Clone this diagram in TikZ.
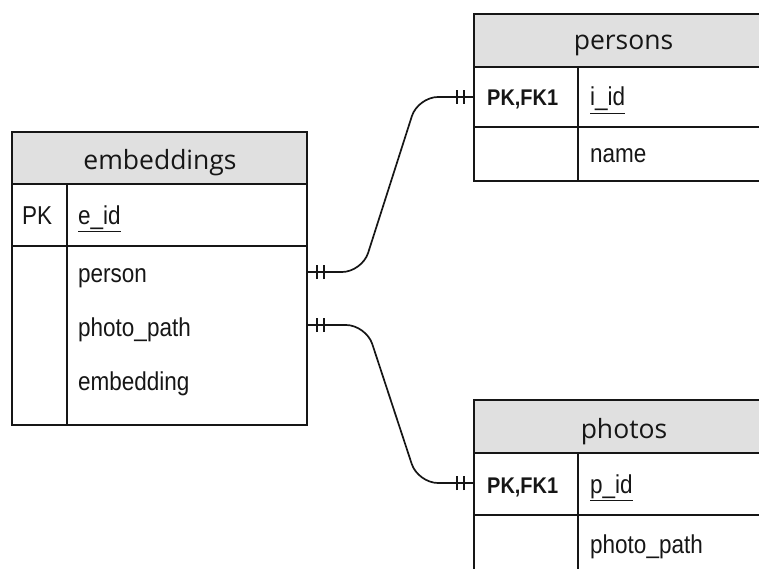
\documentclass[tikz,border=0pt]{standalone}
\usepackage{fontspec}
\usepackage{graphicx}
\setmainfont{Liberation Sans}
\newfontfamily\headfont{Open Sans}
\definecolor{ink}{HTML}{161616}
\definecolor{headfill}{HTML}{E0E0E0}
% field names are set a little taller than the plain font
\newcommand\tallbox[1]{\scalebox{1}[1.15]{#1}}
\newcommand\keybox[1]{\scalebox{0.95}[1.08]{\bfseries #1}}

\begin{document}
\begin{tikzpicture}[x=1pt,y=-1pt,
  frame/.style={draw=ink,line width=1.8pt},
  headcell/.style={fill=headfill},
  title/.style={anchor=base,inner sep=0pt,text=ink,font=\headfont\fontsize{26.5}{30}\selectfont},
  field/.style={anchor=base west,inner sep=0pt,text=ink,font=\fontsize{22.5}{26}\selectfont},
  keyfield/.style={anchor=base west,inner sep=0pt,text=ink,font=\fontsize{21}{24}\selectfont},
  link/.style={draw=ink,line width=1.7pt,rounded corners=20pt},
  bar/.style={draw=ink,line width=1.6pt}]
\useasboundingbox (0,0) rectangle (759,569);
\clip (0,0) rectangle (759,569);

% ---------- embeddings ----------
\fill[headcell] (12,132) rectangle (307,184);
\draw[frame] (12,132) rectangle (307,425);
\draw[frame] (12,184) -- (307,184);
\draw[frame] (12,246) -- (307,246);
\draw[frame] (67,184) -- (67,425);
\node[title] (embT) at (160,170) {embeddings};
\node[field] (embPK) at (22,224) {\tallbox{PK}};
\node[field] (embId) at (78,224) {\tallbox{\underline{e\_id}}};
\node[field] (embPerson) at (78,282) {\tallbox{person}};
\node[field] (embPath) at (78,336) {\tallbox{photo\_path}};
\node[field] (embVec) at (78,390) {\tallbox{embedding}};
\coordinate (embR1) at (307,272);
\coordinate (embR2) at (307,325);

% ---------- persons ----------
\fill[headcell] (474,14) rectangle (775,67);
\draw[frame] (775,14) -- (474,14) -- (474,181) -- (775,181);
\draw[frame] (474,67) -- (775,67);
\draw[frame] (474,127) -- (775,127);
\draw[frame] (578,67) -- (578,181);
\node[title] (perT) at (623.5,50) {persons};
\node[keyfield] (perPK) at (487,106) {\keybox{PK,FK1}};
\node[field] (perId) at (590,106) {\tallbox{\underline{i\_id}}};
\node[field] (perName) at (590,163) {\tallbox{name}};
\coordinate (perL) at (474,97);

% ---------- photos ----------
\fill[headcell] (474,400) rectangle (775,453);
\draw[frame] (775,400) -- (474,400) -- (474,580);
\draw[frame] (474,453) -- (775,453);
\draw[frame] (474,515) -- (775,515);
\draw[frame] (578,453) -- (578,580);
\node[title] (phoT) at (624,438) {photos};
\node[keyfield] (phoPK) at (487,493) {\keybox{PK,FK1}};
\node[field] (phoId) at (590,493) {\tallbox{\underline{p\_id}}};
\node[field] (phoPath) at (590,553) {\tallbox{photo\_path}};
\coordinate (phoL) at (474,483);

% ---------- relationships (one and only one at both ends) ----------
\draw[link] (embR1) -- (362,272) -- (418,97) -- (perL);
\draw[link] (embR2) -- (366,325) -- (418,483) -- (phoL);

\foreach \c in {embR1,embR2}{
  \draw[bar] ([xshift=10pt,yshift=-7pt]\c) -- ([xshift=10pt,yshift=7pt]\c);
  \draw[bar] ([xshift=17pt,yshift=-7pt]\c) -- ([xshift=17pt,yshift=7pt]\c);
}
\foreach \c in {perL,phoL}{
  \draw[bar] ([xshift=-10pt,yshift=-7pt]\c) -- ([xshift=-10pt,yshift=7pt]\c);
  \draw[bar] ([xshift=-17pt,yshift=-7pt]\c) -- ([xshift=-17pt,yshift=7pt]\c);
}
\end{tikzpicture}
\end{document}
